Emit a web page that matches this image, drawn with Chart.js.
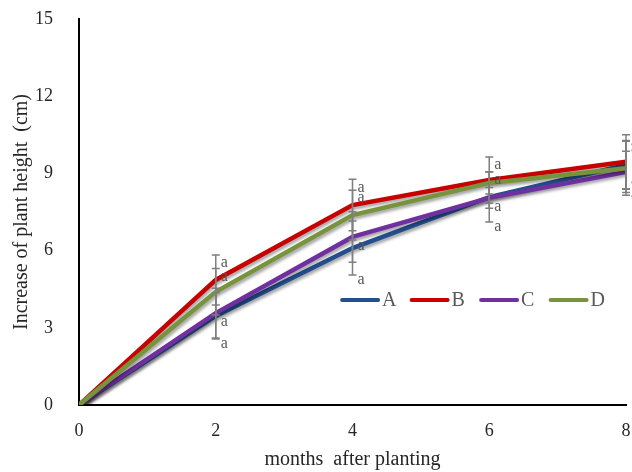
<!DOCTYPE html>
<html>
<head>
<meta charset="utf-8">
<script src="https://cdn.jsdelivr.net/npm/chart.js@4"></script>
<style>
html,body{margin:0;padding:0;background:#fff;}
#wrap{width:632px;height:472px;position:relative;}
</style>
</head>
<body>
<div id="wrap"><canvas id="c" width="632" height="472"></canvas></div>
<script>
// ---- data ----
const months = [0, 2, 4, 6, 8];
const seriesA = [0, 3.46, 6.10, 8.08, 9.33];
const seriesB = [0, 4.86, 7.77, 8.74, 9.45];
const seriesC = [0, 3.57, 6.53, 8.05, 9.06];
const seriesD = [0, 4.40, 7.38, 8.63, 9.20];
const errA = [0, 0.90, 1.05, 0.97, 0.95];
const errB = [0, 0.97, 1.00, 0.90, 1.05];
const errC = [0, 0.97, 0.98, 0.40, 0.80];
const errD = [0, 0.90, 0.97, 0.43, 1.05];
const sigLetters = ['a', 'a', 'a', 'a'];
const seriesNames = ['A', 'B', 'C', 'D'];
const yTicks = [0, 3, 6, 9, 12, 15];
const xTicks = [0, 2, 4, 6, 8];

const colors = ['#234f8e', '#c80000', '#7030a0', '#77933c'];
const allSeries = [seriesA, seriesB, seriesC, seriesD];
const allErr = [errA, errB, errC, errD];
const serif = "'Liberation Serif', 'Times New Roman', serif";

const datasets = allSeries.map((s, i) => ({
  label: seriesNames[i],
  data: s.map((v, j) => ({x: months[j], y: v})),
  borderColor: colors[i],
  backgroundColor: colors[i],
  borderWidth: 4.5,
  pointRadius: 0,
  tension: 0,
  fill: false,
  order: 4 - i
}));

const shadowPlugin = {
  id: 'shadow',
  beforeDatasetDraw(chart) {
    const ctx = chart.ctx;
    ctx.save();
    ctx.shadowColor = 'rgba(0,0,0,0.35)';
    ctx.shadowBlur = 3;
    ctx.shadowOffsetX = 1.5;
    ctx.shadowOffsetY = 2.5;
  },
  afterDatasetDraw(chart) {
    chart.ctx.restore();
  }
};

const errorPlugin = {
  id: 'errbars',
  afterDatasetsDraw(chart) {
    const ctx = chart.ctx;
    const xs = chart.scales.x, ys = chart.scales.y;
    ctx.save();
    ctx.strokeStyle = '#7f7f7f';
    ctx.lineWidth = 1.5;
    ctx.fillStyle = '#595959';
    ctx.font = "16px " + serif;
    ctx.textBaseline = 'middle';
    ctx.textAlign = 'left';
    for (let j = 1; j < months.length; j++) {
      const px = xs.getPixelForValue(months[j]);
      for (let i = 0; i < allSeries.length; i++) {
        const v = allSeries[i][j], e = allErr[i][j];
        const yt = ys.getPixelForValue(v + e), yb = ys.getPixelForValue(v - e);
        ctx.beginPath();
        ctx.moveTo(px, yt); ctx.lineTo(px, yb);
        ctx.moveTo(px - 4, yt); ctx.lineTo(px + 4, yt);
        ctx.moveTo(px - 4, yb); ctx.lineTo(px + 4, yb);
        ctx.stroke();
        let ly;
        if (i === 1 || i === 3) ly = yt + 8;
        else if (i === 2) ly = ys.getPixelForValue(v) + 9;
        else ly = yb + 5;
        ctx.fillText(sigLetters[i], px + 5, ly);
      }
    }
    ctx.restore();
  }
};

const legendPlugin = {
  id: 'customLegend',
  afterDraw(chart) {
    const ctx = chart.ctx;
    const area = chart.chartArea;
    const startX = area.left + (area.right - area.left) * 0.481;
    const y = area.top + (area.bottom - area.top) * 0.728;
    const lineLen = 36, gap = 4, step = 69.5;
    ctx.save();
    ctx.font = "20px " + serif;
    ctx.textBaseline = 'middle';
    ctx.textAlign = 'left';
    chart.data.datasets.forEach((ds, i) => {
      const x0 = startX + i * step;
      ctx.strokeStyle = ds.borderColor;
      ctx.lineWidth = 4;
      ctx.lineCap = 'round';
      ctx.beginPath();
      ctx.moveTo(x0, y); ctx.lineTo(x0 + lineLen, y);
      ctx.stroke();
      ctx.fillStyle = '#595959';
      ctx.fillText(ds.label, x0 + lineLen + gap, y + 1);
    });
    ctx.restore();
  }
};

new Chart(document.getElementById('c'), {
  type: 'line',
  data: { datasets },
  options: {
    responsive: false,
    animation: false,
    layout: { padding: { top: 19, right: 6, left: 0, bottom: 0 } },
    plugins: { legend: { display: false }, tooltip: { enabled: false } },
    scales: {
      x: {
        type: 'linear', min: 0, max: 8,
        afterBuildTicks(s) { s.ticks = xTicks.map(v => ({value: v})); },
        afterFit(s) { s.height = 67; s.paddingRight = 0; s.paddingLeft = 0; },
        grid: { display: false, drawTicks: false },
        border: { display: true, color: '#000', width: 2 },
        ticks: { padding: 15, color: '#262626', font: { family: serif, size: 18 }, maxRotation: 0 },
        title: { display: true, text: 'months  after planting', color: '#262626', font: { family: serif, size: 20 }, padding: { top: 0, bottom: 0 } }
      },
      y: {
        min: 0, max: 15,
        afterBuildTicks(s) { s.ticks = yTicks.map(v => ({value: v})); },
        afterFit(s) { s.width = 79; s.paddingTop = 0; s.paddingBottom = 0; },
        grid: { display: false, drawTicks: false },
        border: { display: true, color: '#000', width: 2 },
        ticks: { padding: 26, color: '#262626', font: { family: serif, size: 18 } },
        title: { display: true, text: 'Increase of plant height  (cm)', color: '#262626', font: { family: serif, size: 20 }, padding: { top: 10, bottom: 0 } }
      }
    }
  },
  plugins: [shadowPlugin, errorPlugin, legendPlugin]
});
</script>
</body>
</html>
